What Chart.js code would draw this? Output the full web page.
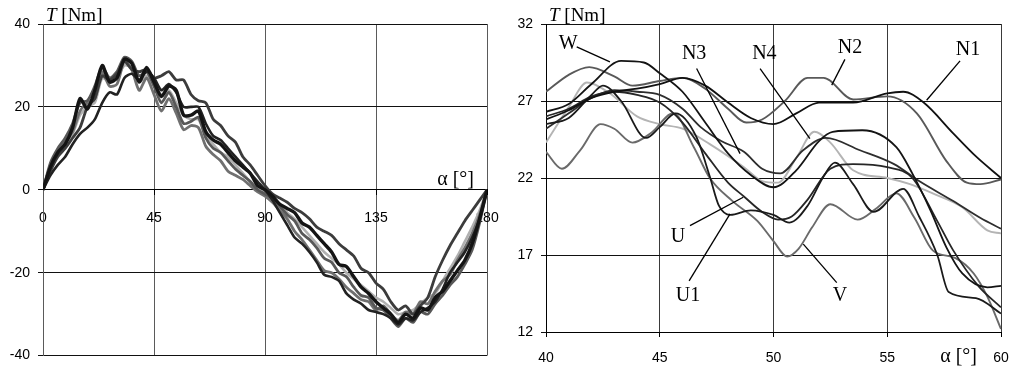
<!DOCTYPE html>
<html>
<head>
<meta charset="utf-8">
<script src="https://cdn.jsdelivr.net/npm/chart.js@4.4.1/dist/chart.umd.min.js"></script>
<style>
  body { margin: 0; background: #fff; }
  canvas { position: absolute; top: 0; }
  #left { left: 0; }
  #right { left: 509px; }
</style>
</head>
<body>
<canvas id="left" width="509" height="372"></canvas>
<canvas id="right" width="509" height="372"></canvas>
<script>
// left chart: full period, angle 0..180 every 3 degrees
const angles = [0,3,6,9,12,15,18,21,24,27,30,33,36,39,42,45,48,51,54,57,60,63,66,69,72,75,78,81,84,87,90,
  93,96,99,102,105,108,111,114,117,120,123,126,129,132,135,138,141,144,147,150,153,156,159,162,165,168,171,174,177,180];

const torque1 = [0,5.5,9,11,15,22,19.5,24,30,26,27,31.5,30.5,26,29.5,26,22.5,25,24,18,18,19,14,12,11,9,7,5.5,4,1,0,
  -1.5,-3.5,-4.5,-5.5,-8,-9,-11,-13,-15,-18,-18.5,-21,-23.5,-25,-27,-28.5,-30,-32,-30,-31,-28.5,-29,-26,-24.5,-22,-19.5,-17,-13,-7,0];
const torque2 = [0,4.5,8,10,12.5,15,20,22,27.5,26.5,28,31,29,28.5,29,27,27.5,28.5,26.5,26.5,23,21.5,21,17,15.5,13,11.5,8,6,3.5,1,
  -1,-2,-3,-4.5,-5.5,-7,-9,-10,-11,-13,-14.5,-16,-19,-20,-22.5,-24,-27,-29,-28,-30,-28,-26,-21,-17,-13.5,-10.5,-7.5,-5,-2.5,0];
const torque3 = [0,6,9.5,12,14,19,21,22,28.5,25,25.5,31,29,24,27,23,19,22,18.5,14.5,15.5,15,10.5,8.5,7,4.5,3.5,2.5,1,-0.5,-1.5,
  -3,-5,-7,-10,-12,-14.5,-17,-19.5,-20,-21.5,-23.5,-25,-26.5,-27,-29,-28,-30,-31.5,-29.5,-30,-27,-27.5,-24.5,-22,-20.5,-17,-14,-10.5,-6,0];
const torque4 = [0,5,8.5,11,13.5,18,20,21,27,26,27,30,29.5,26,27.5,25.5,23,24,21,18,17,17,13,11,9,8,6,4,2,0.5,-0.5,
  -2,-3.5,-5.5,-7,-9,-11,-13,-15,-16.5,-18,-20,-21.5,-23,-24.5,-26,-27,-28.5,-30,-29.5,-29,-27.5,-26,-25,-22,-19,-16,-12.5,-9,-5,0];
const torque5 = [0,3.5,6,8,11,13.5,15,17,21,23.5,23,27,28,26.5,28.5,27,24,25.5,23.5,20,20,20,16,13,12,10,8,6,4,2,0,
  -2.5,-5.5,-8.5,-11.5,-13,-15,-17.5,-20.5,-21,-22,-25,-26.5,-27.5,-29,-29.5,-30,-31,-32.5,-31,-31.5,-29.5,-28.5,-27,-24,-20,-17.5,-15,-11.5,-7,0];
const torque6 = [0,6.5,10,12.5,16,21,21.5,25,29.5,27,28.5,32,31,27.5,28.5,25,21,23.5,20,16,16.5,17.5,12.5,10,9,7,5,3.5,2,0,-1,
  -2,-4,-6,-7.5,-10.5,-12,-14,-16.5,-17.5,-20,-21,-23.5,-25.5,-26,-28.5,-29,-31,-33,-31,-32,-29.5,-30,-27.5,-25.5,-23,-21,-18,-14.5,-8,0];

const leftTicksX = [0, 45, 90, 135, 180];
const leftTicksY = [-40, -20, 0, 20, 40];

// right chart: zoom on 40..60 degrees, [angle, torque] pairs
const curveW = [[40,26.3],[41,26.8],[42,28.1],[43.3,29.6],[44.3,29.5],[45,28.8],[46,27.6],[47,25.6],[48,23.6],[49,22.2],[50,21.4],
  [51,22.5],[52,24.4],[52.6,25.0],[53.9,25.1],[55.4,24.0],[56.1,22.3],[56.9,19.9],[57.6,17.5],[58.3,15.8],[59.4,14.9],[60,15.0]];
const curveN1 = [[40,25.8],[41,26.4],[42,27.2],[43,27.6],[44,27.8],[45,28.1],[46,28.5],[47,28.0],[48,26.9],[49,25.9],[50,25.5],
  [51,26.2],[52,26.9],[53.5,26.9],[55,27.5],[55.7,27.6],[56.6,26.9],[57.9,24.9],[58.9,23.4],[60,22.0]];
const curveN2 = [[40,27.6],[41,28.7],[41.9,29.2],[43,28.6],[43.8,28.0],[45,28.3],[46,28.5],[47,27.8],[48,26.5],[48.8,25.6],[49.5,25.8],
  [50.5,27.0],[51.5,28.5],[52.2,28.5],[53.5,27.1],[55,27.3],[56.3,26.2],[57.6,23.1],[58.5,21.7],[59.1,21.6],[60,21.9]];
const curveN3 = [[40,25.2],[41,26.2],[42,27.2],[43,27.7],[44,27.6],[45,27.4],[46,26.5],[46.8,25.3],[47.7,24.4],[48.7,23.7],[49.5,22.6],
  [50.3,22.3],[51.3,23.8],[52.3,24.6],[53.8,23.8],[55.3,22.9],[56.4,21.8],[57.9,20.5],[59.1,19.4],[60,18.7]];
const curveN4 = [[40,24.3],[41,26.6],[41.8,28.2],[42.8,27.5],[44,26.0],[45,25.5],[46,25.2],[47.2,24.2],[48.7,22.7],[49.5,21.8],[50.2,21.7],
  [51,23.3],[51.8,25.0],[52.5,24.3],[53.5,22.5],[55,22.0],[56,21.6],[57,21.0],[58.3,20.1],[59.4,18.6],[60,18.4]];
const curveU = [[40,26.0],[41,26.5],[42,27.3],[43,27.6],[44,27.4],[45,26.9],[46,25.6],[47,23.6],[48,21.7],[48.7,20.8],[49.5,19.8],
  [50.2,19.3],[50.8,19.5],[51.5,20.6],[52.5,22.6],[53.5,22.9],[55,22.7],[56.1,22.0],[57.2,19.2],[57.9,17.3],[59,15.0],[60,13.6]];
const curveU1 = [[40,25.5],[41,25.9],[42,27.4],[42.5,28.0],[43.3,27.0],[44.4,24.6],[45,25.3],[45.7,26.2],[46.6,24.7],[47.2,22.1],[47.6,20.2],
  [48.1,19.6],[49,19.9],[50,19.6],[50.7,19.1],[51.5,20.2],[52.2,22.1],[52.7,23.0],[53.5,21.6],[54.4,19.8],[55.7,21.3],[56.4,19.5],
  [57.2,17.0],[57.7,14.6],[58.9,14.2],[60,13.2]];
const curveV = [[40,23.7],[40.7,22.6],[41.5,23.8],[42.4,25.5],[43,25.2],[43.8,24.3],[44.6,24.9],[45.6,26.2],[46.5,24.0],[47.2,22.0],
  [48.2,20.5],[49.3,19.2],[50,17.9],[50.6,16.9],[51.1,17.4],[51.7,18.8],[52.5,20.3],[53.7,19.3],[54.5,20.0],[55.4,21.0],[56.2,19.4],
  [57,17.3],[58,16.8],[58.8,15.8],[59.4,14.3],[60,12.2]];

const rightTicksX = [40, 45, 50, 55, 60];
const rightTicksY = [12, 17, 22, 27, 32];

// labels with leader lines: text spot, then line from -> to (data units)
const curveLabels = [
  { text: 'W',  at: [40.97, 30.70], from: [41.35, 30.52], to: [42.81, 29.54] },
  { text: 'N3', at: [46.51, 30.05], from: [46.62, 29.11], to: [48.53, 23.58] },
  { text: 'N4', at: [49.60, 30.05], from: [49.41, 29.11], to: [51.60, 24.55] },
  { text: 'N2', at: [53.36, 30.44], from: [53.14, 29.70], to: [52.56, 28.03] },
  { text: 'N1', at: [58.55, 30.31], from: [58.20, 29.61], to: [56.73, 27.05] },
  { text: 'U',  at: [45.80, 18.19], from: [46.33, 18.91], to: [48.67, 20.75] },
  { text: 'U1', at: [46.24, 14.35], from: [46.29, 15.32], to: [48.09, 19.67] },
  { text: 'V',  at: [52.92, 14.35], from: [52.78, 15.21], to: [51.31, 17.71] }
];

const tickFont = { family: 'Liberation Sans, Arial, sans-serif', size: 14 };
const serif = 'Liberation Serif, Times New Roman, serif';

function fixTicks(values) {
  return function(scale) {
    scale.ticks = values.map(v => ({ value: v }));
  };
}

// keep the x axis from pushing the plot area in; layout padding decides
function fitX(height) {
  return function(s) {
    s.height = height;
    s.paddingLeft = 0;
    s.paddingRight = 0;
  };
}

function drawAxisTitles(chart, alphaX, alphaY) {
  const ctx = chart.ctx;
  const area = chart.chartArea;
  ctx.save();
  ctx.fillStyle = '#000';
  ctx.textBaseline = 'alphabetic';
  ctx.textAlign = 'left';
  let x = area.left + 3;
  ctx.font = 'italic 19px ' + serif;
  ctx.fillText('T', x, area.top - 3);
  x += ctx.measureText('T').width;
  ctx.font = '19px ' + serif;
  ctx.fillText(' [Nm]', x, area.top - 3);
  ctx.font = '20px ' + serif;
  ctx.textAlign = 'right';
  ctx.fillText('\u03b1 [\u00b0]', alphaX, alphaY);
  ctx.restore();
}

function lineSet(points, color, width) {
  return {
    data: points,
    borderColor: color,
    borderWidth: width,
    pointRadius: 0,
    fill: false
  };
}

function leftChart() {
  const series = [
    [torque1, '#141414', 3.4],
    [torque5, '#222222', 2.6],
    [torque2, '#3c3c3c', 2.8],
    [torque6, '#585858', 2.8],
    [torque3, '#707070', 2.8],
    [torque4, '#b0b0b0', 2.6]
  ];
  const datasets = series.map(([vals, color, w]) => {
    const ds = lineSet(angles.map((a, i) => ({ x: a, y: vals[i] })), color, w);
    ds.tension = 0.25;
    return ds;
  });

  new Chart(document.getElementById('left'), {
    type: 'line',
    data: { datasets: datasets },
    options: {
      responsive: false,
      animation: false,
      devicePixelRatio: 1,
      layout: { padding: { top: 24, right: 22, bottom: 15, left: 0 } },
      plugins: { legend: { display: false }, tooltip: { enabled: false } },
      scales: {
        x: {
          type: 'linear',
          min: 0, max: 180,
          position: { y: 0 },
          afterBuildTicks: fixTicks(leftTicksX),
          afterFit: fitX(0),
          grid: { color: '#5a5a5a', lineWidth: 1, tickLength: 5, tickColor: '#000' },
          border: { color: '#000' },
          ticks: { color: '#000', font: tickFont, padding: 15, maxRotation: 0 }
        },
        y: {
          min: -40, max: 40,
          afterBuildTicks: fixTicks(leftTicksY),
          afterFit: s => { s.width = 43; },
          grid: { color: '#111', lineWidth: 1, tickLength: 5 },
          border: { color: '#5a5a5a' },
          ticks: { color: '#000', font: tickFont, padding: 8 }
        }
      }
    },
    plugins: [{
      id: 'titles',
      afterDraw(chart) {
        const y0 = chart.scales.y.getPixelForValue(0);
        drawAxisTitles(chart, chart.chartArea.right - 13, y0 - 5);
      }
    }]
  });
}

function rightChart() {
  const series = [
    [curveW, '#141414', 1.8],
    [curveN1, '#111111', 1.8],
    [curveU1, '#1a1a1a', 1.8],
    [curveU, '#262626', 1.8],
    [curveN3, '#2e2e2e', 1.8],
    [curveN2, '#595959', 1.9],
    [curveV, '#6a6a6a', 1.9],
    [curveN4, '#b4b4b4', 1.9]
  ];
  const datasets = series.map(([pts, color, w]) => {
    const ds = lineSet(pts.map(p => ({ x: p[0], y: p[1] })), color, w);
    ds.cubicInterpolationMode = 'monotone';
    return ds;
  });

  new Chart(document.getElementById('right'), {
    type: 'line',
    data: { datasets: datasets },
    options: {
      responsive: false,
      animation: false,
      devicePixelRatio: 1,
      layout: { padding: { top: 24, right: 17, bottom: 0, left: 0 } },
      plugins: { legend: { display: false }, tooltip: { enabled: false } },
      scales: {
        x: {
          type: 'linear',
          min: 40, max: 60,
          afterBuildTicks: fixTicks(rightTicksX),
          afterFit: fitX(40),
          grid: { color: '#3a3a3a', lineWidth: 1, tickLength: 5, tickColor: '#000' },
          border: { color: '#000' },
          ticks: { color: '#000', font: tickFont, padding: 13, maxRotation: 0 }
        },
        y: {
          min: 12, max: 32,
          afterBuildTicks: fixTicks(rightTicksY),
          afterFit: s => { s.width = 37; },
          grid: { color: '#111', lineWidth: 1, tickLength: 5 },
          border: { color: '#000' },
          ticks: { color: '#000', font: tickFont, padding: 8 }
        }
      }
    },
    plugins: [{
      id: 'labels',
      afterDraw(chart) {
        const ctx = chart.ctx;
        const sx = chart.scales.x, sy = chart.scales.y;
        ctx.save();
        ctx.strokeStyle = '#000';
        ctx.lineWidth = 1.3;
        ctx.fillStyle = '#000';
        ctx.font = '20px ' + serif;
        ctx.textAlign = 'center';
        ctx.textBaseline = 'middle';
        curveLabels.forEach(l => {
          ctx.beginPath();
          ctx.moveTo(sx.getPixelForValue(l.from[0]), sy.getPixelForValue(l.from[1]));
          ctx.lineTo(sx.getPixelForValue(l.to[0]), sy.getPixelForValue(l.to[1]));
          ctx.stroke();
          ctx.fillText(l.text, sx.getPixelForValue(l.at[0]), sy.getPixelForValue(l.at[1]));
        });
        ctx.restore();
        drawAxisTitles(chart, chart.chartArea.right - 24, 362);
      }
    }]
  });
}

leftChart();
rightChart();
</script>
</body>
</html>
